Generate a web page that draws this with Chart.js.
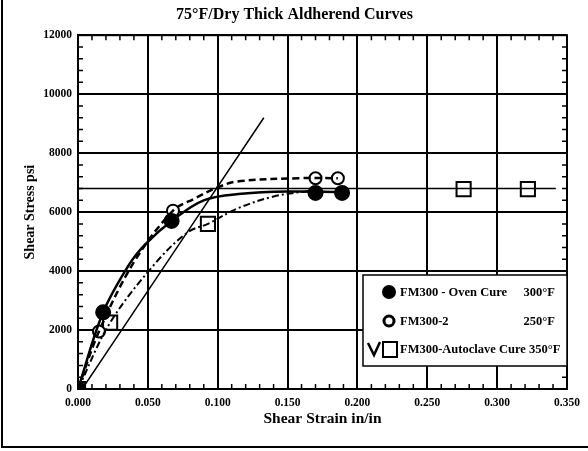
<!DOCTYPE html>
<html>
<head>
<meta charset="utf-8">
<script src="https://cdn.jsdelivr.net/npm/chart.js@4.4.0/dist/chart.umd.min.js"></script>
<style>
    body { margin: 0; background: #fff; }
</style>
</head>
<body>
<canvas id="chart" width="588" height="451"></canvas>
<script>
// values
var chartTitle = '75°F/Dry Thick Aldherend Curves';
var xTickLabels = ['0.000', '0.050', '0.100', '0.150', '0.200', '0.250', '0.300', '0.350'];
var yTickLabels = ['0', '2000', '4000', '6000', '8000', '10000', '12000'];

// FM300 - Oven Cure (filled circles, solid curve)
var ovenStrain = [0, 0.018, 0.067, 0.170, 0.189];
var ovenStress = [0, 2600, 5700, 6650, 6650];
var ovenCurveStrain = [0, 0.018, 0.037, 0.049, 0.067, 0.090, 0.117, 0.150, 0.189];
var ovenCurveStress = [0, 2600, 4250, 4950, 5700, 6400, 6620, 6700, 6680];

// FM300-2 (open circles, dashed curve)
var fm2Strain = [0, 0.015, 0.068, 0.170, 0.186];
var fm2Stress = [0, 1950, 6050, 7150, 7150];
var fm2CurveStrain = [0, 0.015, 0.040, 0.068, 0.083, 0.100, 0.114, 0.158, 0.186];
var fm2CurveStress = [0, 1950, 4300, 6050, 6450, 6840, 7040, 7150, 7150];

// FM300-Autoclave Cure (squares, dash-dot curve)
var autoStrain = [0, 0.023, 0.093, 0.276, 0.322];
var autoStress = [0, 2250, 5600, 6780, 6780];
var autoCurveStrain = [0, 0.023, 0.056, 0.079, 0.093, 0.114, 0.140, 0.165];
var autoCurveStress = [0, 2250, 4300, 5330, 5600, 6120, 6530, 6720];

// straight reference line and plateau line
var slopeStrain = [0.003, 0.133];
var slopeStress = [0, 9200];
var plateauStrain = [0, 0.342];
var plateauStress = [6800, 6800];

function pts(xs, ys) {
    var out = [];
    for (var i = 0; i < xs.length; i++) {
        out.push({x: xs[i], y: ys[i]});
    }
    return out;
}

var serif = "'Liberation Serif', 'DejaVu Serif', serif";

function lineSet(data, dash, width) {
    return {
        data: data, showLine: true, borderColor: '#000', borderWidth: width,
        borderDash: dash, pointRadius: 0, tension: 0.35, fill: false
    };
}
function markSet(data, style, fillCol, radius) {
    return {
        data: data, showLine: false, pointStyle: style, pointRadius: radius,
        pointBackgroundColor: fillCol, pointBorderColor: '#000', pointBorderWidth: 2
    };
}

var decor = {
    id: 'decor',
    afterDatasetsDraw: function(chart) {
        var ctx = chart.ctx, a = chart.chartArea;
        var xs = chart.scales.x, ys = chart.scales.y;
        ctx.save();
        // full plot frame
        ctx.strokeStyle = '#000';
        ctx.lineWidth = 2;
        ctx.strokeRect(a.left, a.top, a.right - a.left, a.bottom - a.top);
        // minor ticks pointing inward
        ctx.lineWidth = 1.5;
        ctx.beginPath();
        for (var i = 1; i < 35; i++) {
            if (i % 5 == 0) continue;
            var px = xs.getPixelForValue(i / 100);
            ctx.moveTo(px, a.bottom); ctx.lineTo(px, a.bottom - 5);
            ctx.moveTo(px, a.top); ctx.lineTo(px, a.top + 5);
        }
        for (var j = 1; j < 30; j++) {
            if (j % 5 == 0) continue;
            var py = ys.getPixelForValue(j * 400);
            ctx.moveTo(a.left, py); ctx.lineTo(a.left + 5, py);
            ctx.moveTo(a.right, py); ctx.lineTo(a.right - 5, py);
        }
        ctx.stroke();

        // legend box inside the plot
        var bx = 363, by = 275, bw = a.right - 363, bh = 91;
        ctx.fillStyle = '#fff';
        ctx.fillRect(bx, by, bw, bh);
        ctx.lineWidth = 1.5;
        ctx.strokeRect(bx, by, bw, bh);
        ctx.fillStyle = '#000';
        ctx.font = 'bold 12.5px ' + serif;
        ctx.textBaseline = 'middle';
        // filled circle
        ctx.beginPath(); ctx.arc(389, 292, 7, 0, Math.PI * 2); ctx.fill();
        // open circle
        ctx.lineWidth = 3;
        ctx.beginPath(); ctx.arc(389, 321, 5, 0, Math.PI * 2); ctx.stroke();
        // check mark + square
        ctx.lineWidth = 2.5;
        ctx.beginPath(); ctx.moveTo(368, 343); ctx.lineTo(374, 355); ctx.lineTo(380, 342); ctx.stroke();
        ctx.lineWidth = 2;
        ctx.strokeRect(383, 342, 14, 15);
        ctx.textAlign = 'left';
        ctx.fillText('FM300 - Oven Cure', 400, 293);
        ctx.fillText('FM300-2', 400, 322);
        ctx.fillText('FM300-Autoclave Cure 350°F', 400, 350);
        ctx.textAlign = 'right';
        ctx.fillText('300°F', 555, 293);
        ctx.fillText('250°F', 555, 322);

        // scan edges of the page
        ctx.lineWidth = 2;
        ctx.beginPath();
        ctx.moveTo(2, 0); ctx.lineTo(2, 447); ctx.lineTo(588, 447);
        ctx.stroke();
        ctx.restore();
    }
};

var ctx = document.getElementById('chart').getContext('2d');
var myChart = new Chart(ctx, {
    type: 'scatter',
    data: {
        datasets: [
            lineSet(pts(plateauStrain, plateauStress), [], 1.5),
            lineSet(pts(slopeStrain, slopeStress), [], 1.5),
            lineSet(pts(ovenCurveStrain, ovenCurveStress), [], 2.5),
            lineSet(pts(fm2CurveStrain, fm2CurveStress), [7, 4], 2.5),
            lineSet(pts(autoCurveStrain, autoCurveStress), [7, 3, 2, 3], 2),
            markSet(pts(ovenStrain, ovenStress), 'circle', '#000', 7),
            markSet(pts(fm2Strain, fm2Stress), 'circle', '#fff', 6),
            markSet(pts(autoStrain, autoStress), 'rect', '#fff', 10)
        ]
    },
    options: {
        responsive: false,
        animation: false,
        layout: { padding: { left: 22, top: 0, right: 21, bottom: 20 } },
        plugins: {
            legend: { display: false },
            tooltip: { enabled: false },
            title: {
                display: true,
                text: chartTitle,
                color: '#000',
                font: { family: serif, size: 16, weight: 'bold' },
                padding: { top: 5, bottom: 11 }
            }
        },
        scales: {
            x: {
                type: 'linear', min: 0, max: 0.35,
                afterFit: function(s) { s.height = 42; },
                ticks: {
                    stepSize: 0.05, color: '#000', padding: 7,
                    font: { family: serif, size: 11.5, weight: 'bold' },
                    maxRotation: 0,
                    callback: function(v) { return xTickLabels[Math.round(v / 0.05)]; }
                },
                grid: { color: '#000', lineWidth: 2, drawTicks: false },
                border: { color: '#000', width: 2 },
                title: {
                    display: true, text: 'Shear Strain in/in', color: '#000',
                    font: { family: serif, size: 15.5, weight: 'bold' },
                    padding: { top: 0, bottom: 3 }
                }
            },
            y: {
                type: 'linear', min: 0, max: 12000,
                afterFit: function(s) { s.width = 56; },
                ticks: {
                    stepSize: 2000, color: '#000', padding: 6,
                    font: { family: serif, size: 11.5, weight: 'bold' },
                    callback: function(v) { return yTickLabels[Math.round(v / 2000)]; }
                },
                grid: { color: '#000', lineWidth: 2, drawTicks: false },
                border: { color: '#000', width: 2 },
                title: {
                    display: true, text: 'Shear Stress psi', color: '#000',
                    font: { family: serif, size: 14, weight: 'bold' },
                    padding: { top: 0, bottom: 0 }
                }
            }
        }
    },
    plugins: [decor]
});
</script>
</body>
</html>
